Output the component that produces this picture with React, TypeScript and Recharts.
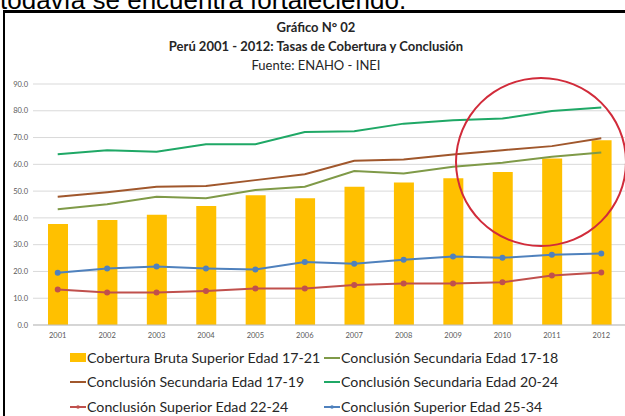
import {
  ComposedChart,
  Bar,
  Line,
  XAxis,
  YAxis,
  CartesianGrid
} from 'recharts';

const years = ['2001', '2002', '2003', '2004', '2005', '2006', '2007', '2008', '2009', '2010', '2011', '2012'];
const yTicks = [0, 10, 20, 30, 40, 50, 60, 70, 80, 90];

// Cobertura Bruta Superior Edad 17-21 (bars)
const cobertura = [37.7, 39.2, 41.2, 44.4, 48.5, 47.3, 51.6, 53.2, 54.8, 57.1, 62.2, 69.0];
// Conclusión Secundaria Edad 17-18
const secundaria1718 = [43.2, 45.1, 47.9, 47.3, 50.4, 51.6, 57.5, 56.6, 59.1, 60.6, 62.8, 64.4];
// Conclusión Secundaria Edad 17-19
const secundaria1719 = [47.9, 49.6, 51.6, 51.9, 54.1, 56.3, 61.3, 61.8, 63.7, 65.3, 66.8, 69.7];
// Conclusión Secundaria Edad 20-24
const secundaria2024 = [63.8, 65.3, 64.7, 67.5, 67.5, 72.1, 72.4, 75.2, 76.5, 77.1, 79.9, 81.2];
// Conclusión Superior Edad 22-24
const superior2224 = [13.3, 12.1, 12.1, 12.7, 13.6, 13.6, 14.9, 15.5, 15.5, 16.0, 18.5, 19.6];
// Conclusión Superior Edad 25-34
const superior2534 = [19.5, 21.1, 21.8, 21.1, 20.7, 23.5, 22.9, 24.4, 25.6, 25.1, 26.2, 26.7];

const SERIES = [
  { key: 'cob', name: 'Cobertura Bruta Superior Edad 17-21', color: '#ffc000', type: 'bar' },
  { key: 's1718', name: 'Conclusión Secundaria Edad 17-18', color: '#7f9a48', type: 'line' },
  { key: 's1719', name: 'Conclusión Secundaria Edad 17-19', color: '#a0572c', type: 'line' },
  { key: 's2024', name: 'Conclusión Secundaria Edad 20-24', color: '#1fa866', type: 'line' },
  { key: 'u2224', name: 'Conclusión Superior Edad 22-24', color: '#c0504d', type: 'marker' },
  { key: 'u2534', name: 'Conclusión Superior Edad 25-34', color: '#4f81bd', type: 'marker' }
];

const data = years.map((year, i) => ({
  year,
  cob: cobertura[i],
  s1718: secundaria1718[i],
  s1719: secundaria1719[i],
  s2024: secundaria2024[i],
  u2224: superior2224[i],
  u2534: superior2534[i]
}));

const FONT = 'Lato, "Open Sans", sans-serif';

function LegendIcon({ type, color }: { type: string; color: string }) {
  if (type === 'bar') {
    return <span style={{ display: 'inline-block', width: 16, height: 9, background: color, marginRight: 1 }} />;
  }
  return (
    <svg width={16} height={10} style={{ marginRight: 1 }}>
      <line x1={0} y1={5} x2={16} y2={5} stroke={color} strokeWidth={2} />
      {type === 'marker' && <circle cx={8} cy={5} r={1.8} fill={color} />}
    </svg>
  );
}

function LegendItem({ s, minWidth }: { s: typeof SERIES[number]; minWidth?: number }) {
  return (
    <div style={{ display: 'flex', alignItems: 'center', minWidth }}>
      <LegendIcon type={s.type} color={s.color} />
      <span>{s.name}</span>
    </div>
  );
}

export default function App() {
  const rows = [[SERIES[0], SERIES[1]], [SERIES[2], SERIES[3]], [SERIES[4], SERIES[5]]];
  return (
    <div style={{ position: 'absolute', left: 0, top: 0, width: 625, height: 416, overflow: 'hidden', background: '#fff' }}>
      <div style={{ position: 'absolute', left: 0, top: -13.5, fontFamily: '"Liberation Sans", Arial, sans-serif', fontSize: 26, lineHeight: '26px', color: '#000', whiteSpace: 'nowrap' }}>
        todavía se encuentra fortaleciendo.
      </div>
      <div style={{ position: 'absolute', left: 3, top: 10, width: 700, height: 500, borderLeft: '2px solid #000', borderTop: '3px solid #000' }} />

      <div style={{ position: 'absolute', left: 0, top: 18, width: 632, textAlign: 'center', fontFamily: FONT, color: '#262626', lineHeight: '19px' }}>
        <div style={{ fontSize: 13, fontWeight: 700 }}>Gráfico N° 02</div>
        <div style={{ fontSize: 13, fontWeight: 700 }}>Perú 2001 - 2012: Tasas de Cobertura  y Conclusión</div>
        <div style={{ fontSize: 13 }}>Fuente: ENAHO - INEI</div>
      </div>

      <div style={{ position: 'absolute', left: 0, top: 0 }}>
        <ComposedChart
          width={630}
          height={416}
          data={data}
          margin={{ top: 84, right: 4, bottom: 71, left: 0 }}
          barCategoryGap={0}
        >
          <CartesianGrid vertical={false} stroke="#d9d9d9" />
          <XAxis
            dataKey="year"
            height={20}
            tickLine={false}
            stroke="#bfbfbf"
            tickSize={4}
            tickMargin={4}
            tick={{ fontSize: 7.5, fill: '#595959', fontFamily: FONT }}
          />
          <YAxis
            width={33}
            domain={[0, 90]}
            ticks={yTicks}
            axisLine={false}
            tickLine={false}
            tickSize={3}
            tickMargin={2}
            tickFormatter={(v) => v.toFixed(1)}
            tick={{ fontSize: 7.5, fill: '#595959', fontFamily: FONT }}
          />
          <Bar dataKey="cob" name={SERIES[0].name} fill={SERIES[0].color} barSize={20} isAnimationActive={false} />
          <Line dataKey="s1718" name={SERIES[1].name} stroke={SERIES[1].color} strokeWidth={2} dot={false} isAnimationActive={false} />
          <Line dataKey="s1719" name={SERIES[2].name} stroke={SERIES[2].color} strokeWidth={2} dot={false} isAnimationActive={false} />
          <Line dataKey="s2024" name={SERIES[3].name} stroke={SERIES[3].color} strokeWidth={2} dot={false} isAnimationActive={false} />
          <Line dataKey="u2224" name={SERIES[4].name} stroke={SERIES[4].color} strokeWidth={2} dot={{ r: 2, fill: SERIES[4].color, stroke: SERIES[4].color }} isAnimationActive={false} />
          <Line dataKey="u2534" name={SERIES[5].name} stroke={SERIES[5].color} strokeWidth={2} dot={{ r: 2, fill: SERIES[5].color, stroke: SERIES[5].color }} isAnimationActive={false} />
        </ComposedChart>
      </div>

      {/* annotation circle drawn over the last years */}
      <div style={{ position: 'absolute', left: 455, top: 77, width: 172, height: 170, borderRadius: '50%', border: '2px solid #d12b3a', boxSizing: 'border-box' }} />

      <div style={{ position: 'absolute', left: 70, top: 345.5, fontFamily: FONT, fontSize: 14.2, color: '#262626', lineHeight: '24.5px' }}>
        {rows.map((row, i) => (
          <div key={i} style={{ display: 'flex' }}>
            <LegendItem s={row[0]} minWidth={254} />
            <LegendItem s={row[1]} />
          </div>
        ))}
      </div>
    </div>
  );
}
